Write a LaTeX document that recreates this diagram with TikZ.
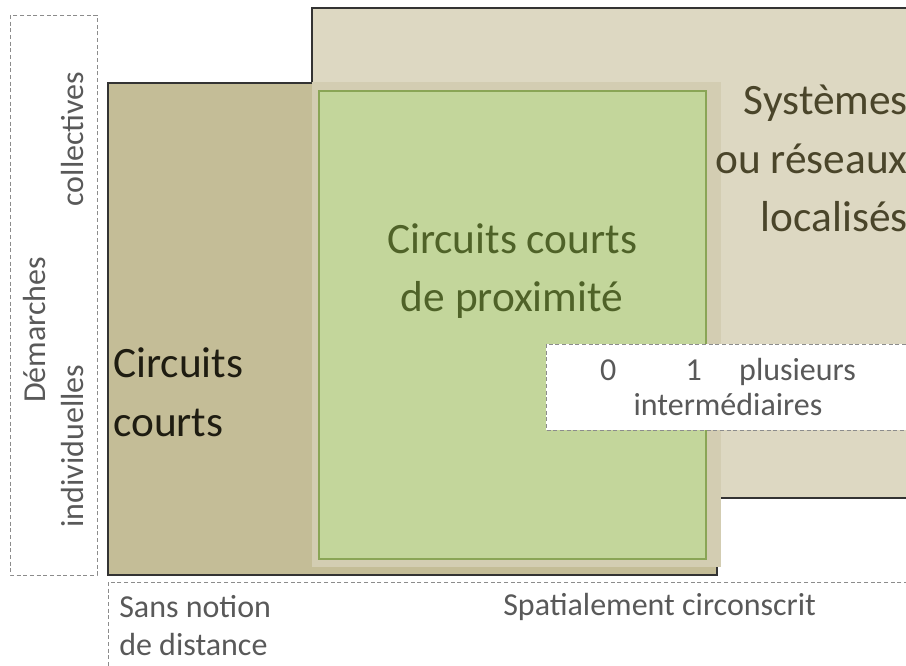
\documentclass[tikz,border=0pt]{standalone}
\usepackage{fontspec}
\setmainfont{Carlito}
\usepackage{xcolor}
\usetikzlibrary{positioning}

\definecolor{tanclair}{HTML}{DDD8C2}
\definecolor{tanfonce}{HTML}{C4BD97}
\definecolor{cadre}{HTML}{D3CDB2}
\definecolor{vertclair}{HTML}{C3D69B}
\definecolor{vertbord}{HTML}{8AA556}
\definecolor{vertfonce}{HTML}{4F6228}
\definecolor{brun}{HTML}{4A452A}
\definecolor{noirbrun}{HTML}{1E1C11}
\definecolor{gris}{HTML}{595959}

\begin{document}
\begin{tikzpicture}[x=0.75pt,y=-0.75pt]
\tikzstyle{zone} = [draw=black!80, line width=1pt];
\tikzstyle{pointille} = [draw=black!45, densely dashed, line width=0.5pt];
\tikzstyle{grand} = [font=\fontsize{32.5}{44}\selectfont, inner sep=0pt];
\tikzstyle{petit} = [font=\fontsize{24}{28.5}\selectfont, text=gris, inner sep=0pt];

\useasboundingbox (0,0) rectangle (906,666);
\clip (0,0) rectangle (906,666);

% les zones
\draw[zone, fill=tanclair] (312,8) rectangle (960,498);
\draw[zone, fill=tanfonce] (108,83) rectangle (717,575);
\fill[cadre] (312,82) rectangle (721,567);
\draw[draw=vertbord, line width=0.8pt, fill=vertclair] (319,91) rectangle (706,559);

% les cadres en pointille
\draw[pointille] (10,15) rectangle (97,575);
\draw[pointille, fill=white] (546,344) rectangle (930,430);
\draw[pointille] (108,582) rectangle (930,690);

% textes des zones (ancre sur la derniere ligne)
\node[grand, text=brun, anchor=base east, align=right] (Systemes) at (908,232) {Systèmes\\ou réseaux\\localisés};
\node[grand, text=vertfonce, anchor=base, align=center] (Proximite) at (512,312) {Circuits courts\\de proximité};
\node[grand, text=noirbrun, anchor=base west, align=left] (Courts) at (113,436) {Circuits\\courts};

% axe vertical
\node[petit, rotate=90, anchor=base] (Demarches) at (45,330) {Démarches};
\node[petit, rotate=90, anchor=base] (Collectives) at (83,139) {collectives};
\node[petit, rotate=90, anchor=base] (Individuelles) at (83,446) {individuelles};

% intermediaires
\node[petit, anchor=base, align=center, font=\fontsize{24}{26}\selectfont] (Intermediaires) at (728,415) {0\hspace{52pt}1\hspace{28pt}plusieurs\\intermédiaires};

% axe horizontal
\node[petit, anchor=base west, align=left] (Distance) at (119,655) {Sans notion\\de distance};
\node[petit, anchor=base west] (Circonscrit) at (503,615) {Spatialement circonscrit};
\end{tikzpicture}
\end{document}
